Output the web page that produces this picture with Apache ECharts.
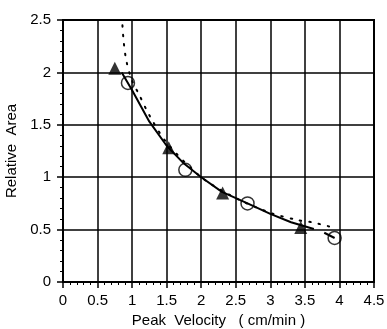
<!DOCTYPE html>
<html>
<head>
<meta charset="utf-8">
<script src="https://cdn.jsdelivr.net/npm/echarts@6/dist/echarts.min.js"></script>
<style>
  html, body { margin: 0; padding: 0; background: #fff; }
  #chart { width: 387px; height: 329px; }
</style>
</head>
<body>
<div id="chart"></div>
<script>
// Measured points: filled triangles and open circles
const triangleX = [0.75, 1.53, 2.31, 3.44];
const triangleY = [2.04, 1.28, 0.85, 0.52];
const circleX = [0.94, 1.77, 2.67, 3.93];
const circleY = [1.90, 1.07, 0.75, 0.42];

// Solid fitted curve (with a short break near the end)
const solidX = [0.85, 1.0, 1.25, 1.5, 1.75, 2.0, 2.3, 2.67, 3.0, 3.3, 3.63, null, 3.78, 3.93];
const solidY = [2.0, 1.83, 1.53, 1.30, 1.13, 1.0, 0.86, 0.75, 0.65, 0.57, 0.505, null, 0.47, 0.42];

// Dotted fitted curve
const dottedX = [0.86, 0.88, 0.92, 1.0, 1.1, 1.25, 1.5, 2.0, 2.5, 3.0, 3.4, 3.6, 3.85];
const dottedY = [2.45, 2.28, 2.10, 1.92, 1.79, 1.59, 1.33, 1.0, 0.80, 0.66, 0.59, 0.57, 0.53];

const xTicks = { min: 0, max: 4.5, interval: 0.5 };
const yTicks = { min: 0, max: 2.5, interval: 0.5 };

const toPairs = (xs, ys) => xs.map((x, i) => (x === null ? [null, null] : [x, ys[i]]));

const font = '"Liberation Sans", Arial, Helvetica, sans-serif';

const axisCommon = {
  axisLine: { onZero: false, lineStyle: { color: '#000', width: 2 } },
  axisTick: { show: true, inside: false, length: 6, lineStyle: { color: '#000', width: 1.5 } },
  minorTick: { show: true, splitNumber: 5, length: 3, lineStyle: { color: '#000', width: 1 } },
  splitLine: { show: true, lineStyle: { color: '#000', width: 1.5 } },
  nameLocation: 'middle',
  nameTextStyle: { color: '#000', fontFamily: font, fontSize: 15 },
  axisLabel: { color: '#000', fontFamily: font, fontSize: 15 }
};

const chart = echarts.init(document.getElementById('chart'), null, { renderer: 'canvas' });
chart.setOption({
  animation: false,
  backgroundColor: '#fff',
  grid: {
    left: 63, right: 13, top: 20, bottom: 47,
    containLabel: false, outerBoundsMode: 'none',
    show: true, borderColor: '#000', borderWidth: 2
  },
  xAxis: Object.assign({}, axisCommon, {
    type: 'value',
    min: xTicks.min, max: xTicks.max, interval: xTicks.interval,
    name: 'Peak  Velocity   ( cm/min )',
    nameGap: 27,
    axisLabel: Object.assign({}, axisCommon.axisLabel, { margin: 11 })
  }),
  yAxis: Object.assign({}, axisCommon, {
    type: 'value',
    min: yTicks.min, max: yTicks.max, interval: yTicks.interval,
    name: 'Relative  Area',
    nameGap: 40,
    axisLabel: Object.assign({}, axisCommon.axisLabel, { margin: 12 })
  }),
  series: [
    {
      type: 'line',
      data: toPairs(solidX, solidY),
      showSymbol: false,
      connectNulls: false,
      lineStyle: { color: '#000', width: 2 },
      z: 3
    },
    {
      type: 'line',
      data: toPairs(dottedX, dottedY),
      showSymbol: false,
      smooth: 0.3,
      lineStyle: { color: '#000', width: 2, type: [1.5, 8], cap: 'round' },
      z: 3
    },
    {
      type: 'scatter',
      data: toPairs(triangleX, triangleY),
      symbol: 'triangle',
      symbolSize: 13,
      itemStyle: { color: '#000' },
      z: 4
    },
    {
      type: 'scatter',
      data: toPairs(circleX, circleY),
      symbol: 'circle',
      symbolSize: 13,
      itemStyle: { color: 'rgba(0,0,0,0)', borderColor: '#000', borderWidth: 1.5 },
      z: 4
    }
  ]
});
</script>
</body>
</html>
